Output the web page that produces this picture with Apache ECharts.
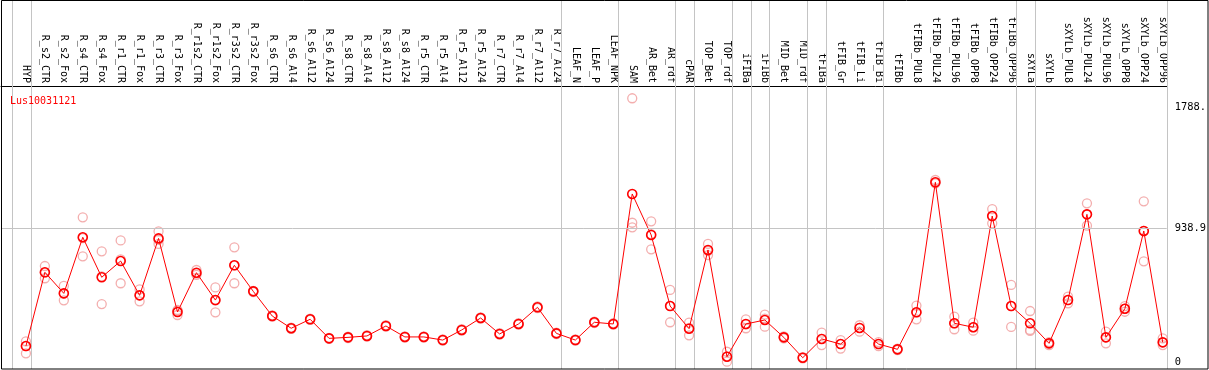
<!DOCTYPE html>
<html>
<head>
<meta charset="utf-8">
<script src="https://cdn.jsdelivr.net/npm/echarts@6/dist/echarts.min.js"></script>
<style>
html,body{margin:0;padding:0;background:#fff;}
#c{width:1209px;height:370px;}
</style>
</head>
<body>
<div id="c"></div>
<script>
const title = 'Lus10031121';
const categories = ['HYP','R_s2_CTR','R_s2_Fox','R_s4_CTR','R_s4_Fox','R_r1_CTR','R_r1_Fox','R_r3_CTR','R_r3_Fox','R_r1s2_CTR','R_r1s2_Fox','R_r3s2_CTR','R_r3s2_Fox','R_s6_CTR','R_s6_Al4','R_s6_Al12','R_s6_Al24','R_s8_CTR','R_s8_Al4','R_s8_Al12','R_s8_Al24','R_r5_CTR','R_r5_Al4','R_r5_Al12','R_r5_Al24','R_r7_CTR','R_r7_Al4','R_r7_Al12','R_r7_Al24','LEAF_N','LEAF_P','LEAF_NPK','SAM','AR_Bet','AR_rdf','cPAR','TOP_Bet','TOP_rdf','iFIBa','iFIBb','MID_Bet','MID_rdf','tFIBa','tFIB_Gr','tFIB_Li','tFIB_Bi','tFIBb','tFIBb_PUL8','tFIBb_PUL24','tFIBb_PUL96','tFIBb_OPP8','tFIBb_OPP24','tFIBb_OPP96','sXYLa','sXYLb','sXYLb_PUL8','sXYLb_PUL24','sXYLb_PUL96','sXYLb_OPP8','sXYLb_OPP24','sXYLb_OPP96'];
const means = [112,630,482,876,595,709,468,868,351,627,435,679,496,323,237,300,166,173,183,253,176,176,154,225,309,197,267,384,201,154,279,267,1180,892,393,234,787,37,267,295,173,30,162,126,239,126,89,349,1262,272,244,1025,393,272,131,435,1037,173,374,920,138];
const rep1 = [145,674,534,1016,777,854,510,918,365,646,524,805,500,328,242,305,170,178,188,258,180,180,158,230,314,202,272,390,206,158,284,272,1852,988,506,276,829,72,300,332,180,34,206,154,258,140,94,396,1278,318,276,1074,541,358,140,459,1114,213,393,1128,166];
const rep2 = [61,588,433,742,407,553,426,829,330,623,349,553,490,318,232,296,162,168,178,248,172,172,150,220,304,192,262,378,196,150,274,262,978,791,279,187,751,2,237,248,166,26,119,94,213,112,84,300,1255,230,220,974,246,225,119,412,957,131,353,707,119];
const rep3 = [112,628,480,870,601,720,468,857,358,612,432,679,498,323,237,300,166,173,183,253,176,176,154,225,309,197,267,384,201,154,279,267,946,897,394,239,781,40,264,305,173,30,162,126,239,126,89,349,1262,272,244,1025,393,218,131,435,1037,173,374,920,138];
// separators drawn after these category indices (-1 = before first)
const groupBreaks = [-1,0,28,31,34,35,37,38,39,41,42,45,52,53,60];
const yTickValues = [0, 938.9, 1788];
const yTickLabels = ['0', '938.9', '1788.'];
const gridValue = 938.9;

const meanData = means.map((v, i) => [i, v]);
const repData = [];
[rep1, rep2, rep3].forEach(r => r.forEach((v, i) => { if (v != null) repData.push([i, v]); }));
const sepData = groupBreaks.map(k => [k + 0.245]);

const mono = 'DejaVu Sans Mono';
const chart = echarts.init(document.getElementById('c'), null, {renderer: 'canvas'});
chart.setOption({
  animation: false,
  backgroundColor: '#fff',
  title: {
    text: title, left: 5, top: 91,
    textStyle: {color: '#ff0000', fontSize: 10, fontFamily: mono, fontWeight: 'normal'}
  },
  grid: {left: 1, right: 39, top: 86, bottom: 1, containLabel: false},
  xAxis: {
    type: 'value', position: 'top',
    min: -1.3158, max: 60.2105,
    axisLine: {show: true, onZero: false, lineStyle: {color: '#000', width: 1}},
    axisTick: {show: false},
    splitLine: {show: false},
    axisLabel: {
      customValues: categories.map((c, i) => i),
      rotate: 90, margin: 3, hideOverlap: false,
      formatter: v => categories[Math.round(v)] || '',
      color: '#000', fontSize: 10, fontFamily: mono
    }
  },
  yAxis: {
    type: 'value', position: 'right',
    min: -49.16, max: 1938.2,
    axisLine: {show: false}, axisTick: {show: false}, splitLine: {show: false},
    axisLabel: {
      customValues: yTickValues, margin: 8,
      formatter: v => { const k = yTickValues.indexOf(v); return k >= 0 ? yTickLabels[k] : ''; },
      color: '#000', fontSize: 10.4, fontFamily: mono, align: 'left'
    }
  },
  graphic: [{
    type: 'rect', z: 100, silent: true,
    shape: {x: 1.5, y: 0.5, width: 1206.5, height: 368.5},
    style: {fill: 'none', stroke: '#000', lineWidth: 1}
  }],
  series: [
    {
      type: 'custom', clip: false, silent: true, z: 1,
      data: sepData,
      encode: {x: 0},
      renderItem: (params, api) => {
        const x = Math.round(api.coord([api.value(0), 0])[0]) + 0.5;
        return {type: 'line', shape: {x1: x, y1: 0, x2: x, y2: 369},
                style: {stroke: '#c4c4c4', lineWidth: 1}};
      }
    },
    {
      type: 'scatter', z: 3, silent: true,
      data: repData,
      symbol: 'circle', symbolSize: 9,
      itemStyle: {color: 'rgba(0,0,0,0)', borderColor: '#f09a9a', borderWidth: 1.3}
    },
    {
      type: 'line', z: 4, silent: true,
      data: meanData,
      symbol: 'circle', symbolSize: 9, showAllSymbol: true,
      lineStyle: {color: '#ff0000', width: 1},
      itemStyle: {color: 'rgba(0,0,0,0)', borderColor: '#ff0000', borderWidth: 1.6},
      markLine: {
        silent: true, symbol: ['none', 'none'],
        label: {show: false},
        lineStyle: {color: '#c4c4c4', type: 'solid', width: 1},
        data: [{yAxis: gridValue}]
      }
    }
  ]
});
</script>
</body>
</html>
